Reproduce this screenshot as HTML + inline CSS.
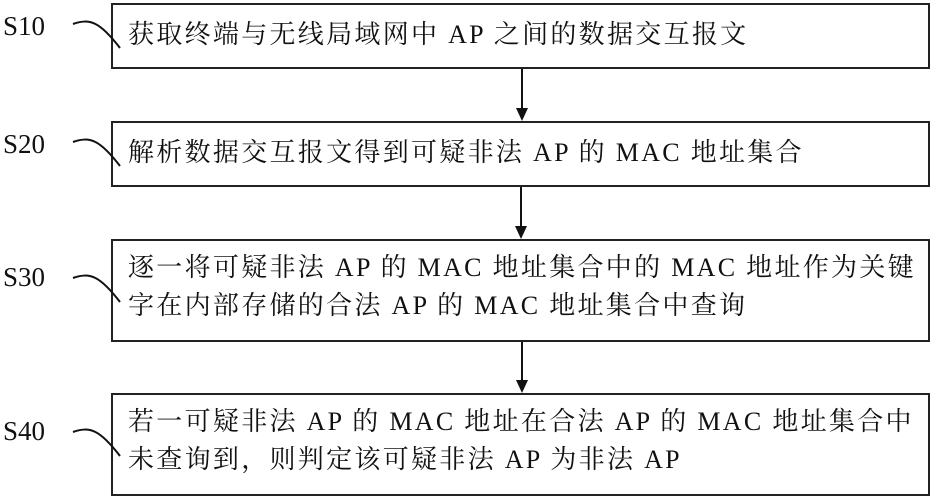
<!DOCTYPE html>
<html><head><meta charset="utf-8"><style>
body{margin:0;background:#fff;width:936px;height:499px;overflow:hidden;position:relative;font-family:"Liberation Serif","Noto Serif CJK SC",serif;color:#111}
.b{position:absolute;left:111px;width:819px;border:2px solid #222;box-sizing:border-box}
.t{position:absolute;left:128px;font-size:26px;letter-spacing:2.3px;white-space:nowrap;line-height:38px}
.s{position:absolute;left:3px;font-size:27px;line-height:30px}
</style></head><body>
<div class="b" style="top:3px;height:66px"></div>
<div class="b" style="top:121px;height:66px"></div>
<div class="b" style="top:239px;height:103px"></div>
<div class="b" style="top:393px;height:103px"></div>
<div class="t" style="top:16px">获取终端与无线局域网中 AP 之间的数据交互报文</div>
<div class="t" style="top:134px">解析数据交互报文得到可疑非法 AP 的 MAC 地址集合</div>
<div class="t" style="top:249px">逐一将可疑非法 AP 的 MAC 地址集合中的 MAC 地址作为关键<br>字在内部存储的合法 AP 的 MAC 地址集合中查询</div>
<div class="t" style="top:403px">若一可疑非法 AP 的 MAC 地址在合法 AP 的 MAC 地址集合中<br>未查询到，则判定该可疑非法 AP 为非法 AP</div>
<div class="s" style="top:11px">S10</div>
<div class="s" style="top:129px">S20</div>
<div class="s" style="top:262px">S30</div>
<div class="s" style="top:416px">S40</div>
<svg width="936" height="499" style="position:absolute;left:0;top:0">
<g fill="none" stroke="#111" stroke-width="2">
<path d="M73,24 C90,18 100,22 120,48"/>
<path d="M73,142 C90,136 100,140 120,166"/>
<path d="M73,278 C90,272 100,276 120,302"/>
<path d="M73,432 C90,426 100,430 120,456"/>
<line x1="522" y1="69" x2="522" y2="110"/>
<line x1="521" y1="187" x2="521" y2="228"/>
<line x1="522" y1="342" x2="522" y2="382"/>
</g>
<g fill="#111">
<polygon points="516,108 528,108 522,121"/>
<polygon points="515,226 527,226 521,239"/>
<polygon points="516,380 528,380 522,393"/>
</g>
</svg>
</body></html>
